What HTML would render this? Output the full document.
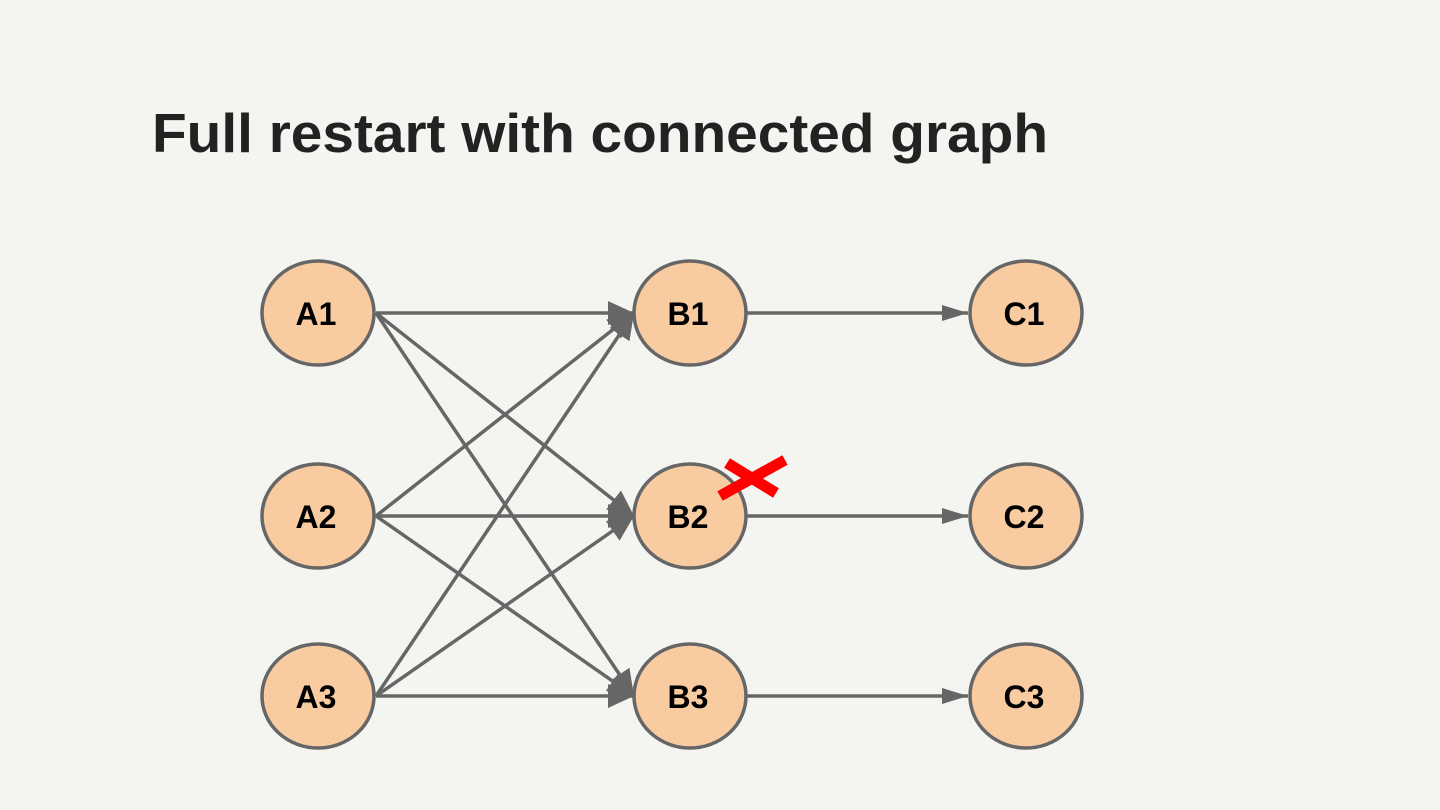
<!DOCTYPE html>
<html><head><meta charset="utf-8"><style>
html,body{margin:0;padding:0;background:#f4f4f1;}
svg{display:block;}
</style></head><body>
<svg width="1440" height="810" viewBox="0 0 1440 810" xmlns="http://www.w3.org/2000/svg">
<defs>
<marker id="big" markerUnits="userSpaceOnUse" markerWidth="30" markerHeight="30" refX="26" refY="12" orient="auto">
<path d="M0,0 L26,12 L0,24 Z" fill="#666"/>
</marker>
<marker id="sm" markerUnits="userSpaceOnUse" markerWidth="30" markerHeight="20" refX="26" refY="8" orient="auto">
<path d="M0,0 L26,8 L0,16 Z" fill="#666"/>
</marker>
</defs>
<rect width="1440" height="810" fill="#f4f4f1"/>
<text x="152" y="152" font-family="Liberation Sans, sans-serif" font-weight="bold" font-size="55" fill="#222" textLength="896" lengthAdjust="spacingAndGlyphs">Full restart with connected graph</text>
<g stroke="#666" stroke-width="3.5" fill="none">
<line x1="376" y1="313" x2="634" y2="313" marker-end="url(#big)"/>
<line x1="376" y1="313" x2="634" y2="516" marker-end="url(#big)"/>
<line x1="376" y1="313" x2="634" y2="696" marker-end="url(#big)"/>
<line x1="376" y1="516" x2="634" y2="313" marker-end="url(#big)"/>
<line x1="376" y1="516" x2="634" y2="516" marker-end="url(#big)"/>
<line x1="376" y1="516" x2="634" y2="696" marker-end="url(#big)"/>
<line x1="376" y1="696" x2="634" y2="313" marker-end="url(#big)"/>
<line x1="376" y1="696" x2="634" y2="516" marker-end="url(#big)"/>
<line x1="376" y1="696" x2="634" y2="696" marker-end="url(#big)"/>
<line x1="747" y1="313" x2="968" y2="313" marker-end="url(#sm)"/>
<line x1="747" y1="516" x2="968" y2="516" marker-end="url(#sm)"/>
<line x1="747" y1="696" x2="968" y2="696" marker-end="url(#sm)"/>
</g>
<g fill="#f8cba0" stroke="#666" stroke-width="3.5">
<ellipse cx="318" cy="313" rx="56" ry="52"/>
<ellipse cx="318" cy="516" rx="56" ry="52"/>
<ellipse cx="318" cy="696" rx="56" ry="52"/>
<ellipse cx="690" cy="313" rx="56" ry="52"/>
<ellipse cx="690" cy="516" rx="56" ry="52"/>
<ellipse cx="690" cy="696" rx="56" ry="52"/>
<ellipse cx="1026" cy="313" rx="56" ry="52"/>
<ellipse cx="1026" cy="516" rx="56" ry="52"/>
<ellipse cx="1026" cy="696" rx="56" ry="52"/>
</g>
<g font-family="Liberation Sans, sans-serif" font-weight="bold" font-size="32" fill="#000" text-anchor="middle">
<text x="316" y="325">A1</text><text x="316" y="528">A2</text><text x="316" y="708">A3</text>
<text x="688" y="325">B1</text><text x="688" y="528">B2</text><text x="688" y="708">B3</text>
<text x="1024" y="325">C1</text><text x="1024" y="528">C2</text><text x="1024" y="708">C3</text>
</g>
<g stroke="#f00" stroke-width="11" stroke-linecap="butt">
<line x1="727" y1="463" x2="776" y2="493"/>
<line x1="720" y1="496" x2="785" y2="460"/>
</g>
</svg>
</body></html>
